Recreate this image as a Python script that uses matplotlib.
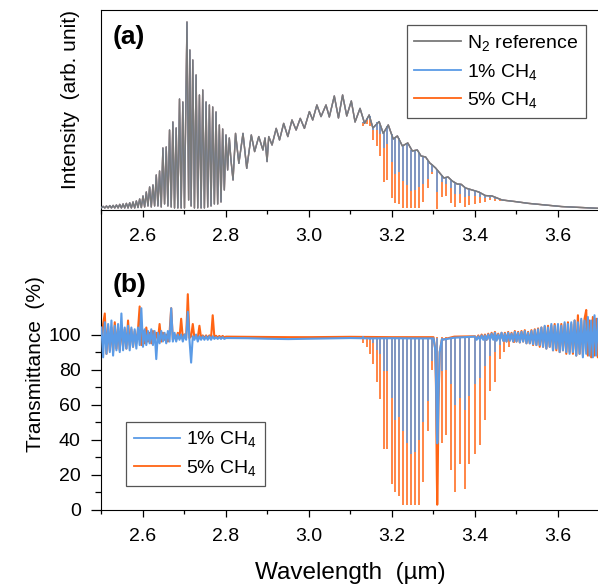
import numpy as np
import matplotlib
matplotlib.use('Agg')
import matplotlib.pyplot as plt
from matplotlib.ticker import MultipleLocator, FixedLocator

plt.rcParams['font.family'] = ['Liberation Sans', 'DejaVu Sans']
plt.rcParams['mathtext.fontset'] = 'custom'
plt.rcParams['mathtext.rm'] = 'Liberation Sans'
plt.rcParams['mathtext.it'] = 'Liberation Sans:italic'

GRAY = '#7a7a7a'
BLUE = '#5b9be6'
ORANGE = '#ff6414'

# ---- (a) N2 reference emission (arb. unit)
ref_wl = [2.500, 2.504, 2.508, 2.512, 2.516, 2.520, 2.524, 2.528, 2.532, 2.536,
          2.540, 2.544, 2.548, 2.552, 2.556, 2.560, 2.564, 2.568, 2.572, 2.576,
          2.580, 2.584, 2.588, 2.592, 2.596, 2.600, 2.604, 2.608, 2.612, 2.616,
          2.620, 2.624, 2.628, 2.632, 2.636, 2.640, 2.644, 2.648, 2.652, 2.656,
          2.660, 2.664, 2.668, 2.672, 2.676, 2.680, 2.684, 2.688, 2.692, 2.696,
          2.700, 2.706, 2.710, 2.713, 2.716, 2.720, 2.724, 2.728, 2.732, 2.736,
          2.740, 2.744, 2.748, 2.752, 2.756, 2.760, 2.764, 2.768, 2.772, 2.776,
          2.780, 2.784, 2.788, 2.792, 2.796, 2.800, 2.804, 2.808, 2.812, 2.817,
          2.823, 2.831, 2.841, 2.850, 2.861, 2.869, 2.879, 2.889, 2.894, 2.899,
          2.903, 2.911, 2.921, 2.929, 2.939, 2.949, 2.959, 2.969, 2.979, 2.989,
          3.001, 3.009, 3.019, 3.029, 3.041, 3.049, 3.061, 3.071, 3.081, 3.091,
          3.102, 3.111, 3.123, 3.134, 3.145, 3.154, 3.169, 3.179, 3.191, 3.203,
          3.213, 3.225, 3.238, 3.249, 3.261, 3.270, 3.281, 3.291, 3.297, 3.305,
          3.313, 3.325, 3.335, 3.345, 3.357, 3.367, 3.377, 3.393, 3.409, 3.425,
          3.441, 3.465, 3.497, 3.529, 3.569, 3.609, 3.657, 3.700]
ref_int = [0.012, 0.018, 0.010, 0.020, 0.010, 0.022, 0.010, 0.023, 0.010, 0.025,
           0.010, 0.028, 0.010, 0.030, 0.010, 0.033, 0.010, 0.036, 0.010, 0.040,
           0.010, 0.045, 0.012, 0.055, 0.012, 0.070, 0.015, 0.090, 0.020, 0.115,
           0.015, 0.125, 0.020, 0.175, 0.020, 0.195, 0.015, 0.310, 0.030, 0.315,
           0.020, 0.400, 0.015, 0.440, 0.010, 0.410, 0.010, 0.555, 0.010, 0.540,
           0.010, 0.940, 0.050, 0.800, 0.020, 0.750, 0.010, 0.675, 0.010, 0.575,
           0.010, 0.600, 0.010, 0.540, 0.015, 0.525, 0.020, 0.515, 0.030, 0.490,
           0.030, 0.425, 0.040, 0.405, 0.100, 0.375, 0.200, 0.360, 0.250, 0.150,
           0.383, 0.233, 0.383, 0.208, 0.375, 0.292, 0.367, 0.300, 0.360, 0.242,
           0.367, 0.325, 0.408, 0.350, 0.433, 0.367, 0.450, 0.400, 0.458, 0.408,
           0.492, 0.450, 0.525, 0.467, 0.525, 0.465, 0.570, 0.460, 0.575, 0.470,
           0.545, 0.440, 0.508, 0.433, 0.475, 0.410, 0.442, 0.383, 0.425, 0.355,
           0.370, 0.320, 0.335, 0.295, 0.300, 0.270, 0.265, 0.235, 0.225, 0.210,
           0.190, 0.160, 0.165, 0.145, 0.130, 0.128, 0.110, 0.100, 0.090, 0.072,
           0.070, 0.050, 0.042, 0.033, 0.025, 0.017, 0.012, 0.008]

# CH4 absorption lines (um), line top on the reference and line bottoms in (a)
line_wl = [3.131, 3.139, 3.147, 3.155, 3.163, 3.172, 3.181, 3.189, 3.199, 3.208,
           3.217, 3.227, 3.237, 3.246, 3.255, 3.265, 3.275, 3.286, 3.296, 3.309,
           3.320, 3.331, 3.341, 3.352, 3.364, 3.375, 3.385, 3.399, 3.412, 3.424,
           3.436, 3.448, 3.460, 3.471, 3.483, 3.495]
a_top = [0.44, 0.46, 0.47, 0.42, 0.44, 0.43, 0.39, 0.42, 0.38, 0.36,
         0.36, 0.32, 0.33, 0.30, 0.30, 0.29, 0.265, 0.25, 0.225, 0.20,
         0.175, 0.16, 0.15, 0.135, 0.128, 0.115, 0.105, 0.098, 0.088, 0.075,
         0.071, 0.062, 0.055, 0.050, 0.046, 0.043]
a_bot_5 = [0.42, 0.43, 0.42, 0.35, 0.32, 0.27, 0.14, 0.15, 0.06, 0.035,
           0.03, 0.01, 0.01, 0.01, 0.01, 0.01, 0.04, 0.11, 0.18, 0.003,
           0.066, 0.069, 0.035, 0.014, 0.033, 0.014, 0.027, 0.031, 0.033, 0.038,
           0.048, 0.045, 0.047, 0.045, 0.043, 0.041]
a_bot_1 = [0.435, 0.45, 0.455, 0.40, 0.40, 0.38, 0.31, 0.33, 0.24, 0.18,
           0.19, 0.145, 0.125, 0.095, 0.10, 0.115, 0.13, 0.155, 0.19, 0.09,
           0.138, 0.128, 0.108, 0.081, 0.082, 0.066, 0.068, 0.071, 0.066, 0.062,
           0.062, 0.056, 0.052, 0.048, 0.045, 0.042]

# ---- (b) transmittance (%) at the line centres
t_5 = [95, 93, 89, 83, 73, 63, 35, 35, 15, 10,
       8, 3, 3, 3, 3, 3, 16, 45, 80, 3,
       38, 43, 23, 10, 26, 12, 26, 32, 37, 51,
       68, 73, 86, 90, 93, 95]
t_1 = [99, 98, 97, 95, 91, 89, 79, 79, 64, 51,
       53, 45, 38, 32, 33, 40, 50, 62, 85, 45,
       79, 80, 72, 60, 64, 57, 65, 72, 75, 82,
       88, 90, 94, 96, 98, 98]
base_1 = 97.8
base_5 = 98.5

# noisy short-wavelength edge, 2.50-2.80 um
noise_l_wl = np.linspace(2.5, 2.8, 76)
noise_l_1 = [104, 87, 107, 89, 106, 90, 108, 88, 105, 91, 106, 90, 112, 91, 104, 92,
             105, 91, 104, 93, 103, 92, 104, 94, 115, 93, 103, 94, 102, 95, 103, 94,
             102, 86, 101, 95, 102, 96, 101, 95, 102, 96, 115, 96, 101, 96, 100, 97,
             100, 96, 100, 97, 113, 97, 84, 99, 97, 100, 96, 99, 97, 99, 97, 99,
             97, 99, 97, 99, 97.5, 98.5, 97.5, 98.5, 97.5, 98.5, 97.5, 98]
noise_l_5 = [90, 106, 112, 89, 105, 91, 104, 90, 107, 92, 104, 91, 105, 93, 103, 92,
             108, 94, 103, 93, 102, 95, 103, 116, 94, 102, 95, 104, 96, 101, 95, 102,
             96, 101, 97, 106, 96, 101, 97, 100, 96, 101, 115, 97, 100, 97, 101, 98,
             109, 98, 100, 98, 123, 98, 99, 106, 98, 99.5, 98, 105, 98, 99.5, 98, 99.5,
             98, 99.5, 98, 111, 98.5, 99.3, 98.3, 99.2, 98.4, 99.2, 98.4, 98.8]

# flat middle part including the Q branch
mid_wl = [2.80, 2.85, 2.90, 2.95, 3.00, 3.05, 3.10, 3.15, 3.20, 3.25, 3.30,
          3.304, 3.306, 3.308, 3.309, 3.310, 3.312, 3.315, 3.320, 3.35, 3.40]
mid_1 = [98, 97.9, 97.6, 97.4, 97.6, 97.8, 98.0, 97.8, 97.9, 97.8, 97.8,
         92, 75, 45, 38, 40, 65, 90, 97, 98.2, 98.8]
mid_5 = [98.8, 98.7, 98.6, 98.5, 98.5, 98.6, 98.7, 98.6, 98.5, 98.5, 98.5,
         92, 70, 20, 3, 15, 60, 90, 97, 98.8, 99]

# noisy long-wavelength edge, 3.40-3.70 um
noise_r_wl = np.linspace(3.4, 3.7, 76)
noise_r_1 = [98.8, 97, 99, 97, 99.5, 97, 99.5, 97, 100, 97, 100.5, 97, 101, 96.5, 100, 97,
             101, 96.5, 100.5, 96, 101, 96.5, 100.5, 96, 101.5, 96, 101, 95.5, 101.5, 96,
             102, 95, 101, 95, 102, 94.5, 102.5, 94, 103, 94, 104, 93, 105, 92, 104, 93,
             106, 91, 105, 92, 106, 90, 105, 91, 107, 90, 106, 89, 107, 90, 108, 88,
             107, 89, 109, 87, 108, 89, 110, 88, 108, 87, 111, 88, 109, 89]
noise_r_5 = [99, 97.5, 99.5, 97.5, 100, 97.5, 100, 97, 100.5, 97, 101, 97.5, 101.5, 97, 100.5, 97,
             101, 96.5, 101, 96, 101.5, 96.5, 101, 96, 102, 96, 101.5, 95.5, 102, 96,
             102.5, 95, 101.5, 95, 102.5, 94, 103, 94, 103.5, 93, 104, 93, 104.5, 92, 105, 93,
             105, 91, 106, 91, 105, 90, 106, 91, 106, 89, 107, 90, 106, 89, 108, 88,
             111, 89, 108, 88, 109, 114, 88, 108, 87, 110, 88, 109, 87, 110]

wl_b = np.concatenate([noise_l_wl, mid_wl[1:-1], noise_r_wl])
tr_1 = np.concatenate([noise_l_1, mid_1[1:-1], noise_r_1])
tr_5 = np.concatenate([noise_l_5, mid_5[1:-1], noise_r_5])

fig = plt.figure(figsize=(5.98, 5.88), dpi=100)
ax1 = fig.add_axes([0.1697, 0.6429, 0.8328, 0.3401])
ax2 = fig.add_axes([0.1697, 0.1327, 0.8328, 0.5102])
ax2.patch.set_visible(False)
ax1.set_zorder(3)
ax1.patch.set_visible(False)

# (a)
ax1.plot(ref_wl, ref_int, color=ORANGE, lw=1.0, zorder=1)
ax1.vlines(line_wl, a_bot_5, a_top, color=ORANGE, lw=1.1, zorder=2)
ax1.plot(ref_wl, ref_int, color=BLUE, lw=1.0, zorder=3)
ax1.vlines(line_wl, a_bot_1, a_top, color=BLUE, lw=1.1, zorder=4)
ax1.plot(ref_wl, ref_int, color=GRAY, lw=1.0, zorder=5)
ax1.set_xlim(2.5, 3.7)
ax1.set_ylim(0, 1.0)
ax1.set_yticks([])
ax1.set_ylabel('Intensity  (arb. unit)', fontsize=15)
ax1.yaxis.set_label_coords(-0.043, 0.55)
ax1.text(0.023, 0.865, '(a)', transform=ax1.transAxes, fontsize=19,
         fontweight='bold', va='center', ha='left')
ax1.spines['right'].set_visible(False)

h_n2, = ax1.plot([], [], color=GRAY, lw=1.3)
h_1, = ax1.plot([], [], color=BLUE, lw=1.3)
h_5, = ax1.plot([], [], color=ORANGE, lw=1.3)
leg = ax1.legend([h_n2, h_1, h_5], ['N$_2$ reference', '1% CH$_4$', '5% CH$_4$'],
                 loc='upper right', bbox_to_anchor=(0.973, 0.925), borderaxespad=0,
                 fontsize=14, fancybox=False, edgecolor='#555555', framealpha=1,
                 handlelength=2.4, handletextpad=0.3, labelspacing=0.45, borderpad=0.4)
leg.get_frame().set_linewidth(0.9)

# (b)
ax2.plot(wl_b, tr_5, color=ORANGE, lw=1.5, zorder=1)
ax2.vlines(line_wl, t_5, base_5, color=ORANGE, lw=1.1, zorder=2)
ax2.plot(wl_b, tr_1, color=BLUE, lw=1.5, zorder=3)
ax2.vlines(line_wl, t_1, base_1, color=BLUE, lw=1.1, zorder=4)
ax2.set_xlim(2.5, 3.7)
ax2.set_ylim(0, 171)
ax2.set_yticks([0, 20, 40, 60, 80, 100])
ax2.yaxis.set_minor_locator(FixedLocator([10, 30, 50, 70, 90]))
ax2.set_ylabel('Transmittance  (%)', fontsize=15)
ax2.yaxis.set_label_coords(-0.113, 0.485)
ax2.set_xlabel('Wavelength  (µm)', fontsize=17.5, labelpad=12)
ax2.text(0.023, 0.75, '(b)', transform=ax2.transAxes, fontsize=19,
         fontweight='bold', va='center', ha='left')
ax2.spines['top'].set_visible(False)
ax2.spines['right'].set_visible(False)

b1, = ax2.plot([], [], color=BLUE, lw=1.3)
b5, = ax2.plot([], [], color=ORANGE, lw=1.3)
leg2 = ax2.legend([b1, b5], ['1% CH$_4$', '5% CH$_4$'], loc='lower left',
                  bbox_to_anchor=(0.049, 0.08), borderaxespad=0, fontsize=14,
                  fancybox=False, edgecolor='#555555', framealpha=1,
                  handlelength=2.4, handletextpad=0.3, labelspacing=0.45, borderpad=0.4)
leg2.get_frame().set_linewidth(0.9)

for ax in (ax1, ax2):
    ax.xaxis.set_major_locator(MultipleLocator(0.2))
    ax.xaxis.set_minor_locator(MultipleLocator(0.1))
    ax.tick_params(which='major', direction='out', length=5, width=0.9, labelsize=14, pad=8)
    ax.tick_params(which='minor', direction='out', length=3, width=0.9)
    ax.xaxis.set_major_formatter(plt.FuncFormatter(lambda v, p: f'{v:.1f}'))
ax2.tick_params(axis='y', which='major', length=7, pad=8)
ax2.tick_params(axis='y', which='minor', length=4)

fig.savefig('out.png', dpi=100)
